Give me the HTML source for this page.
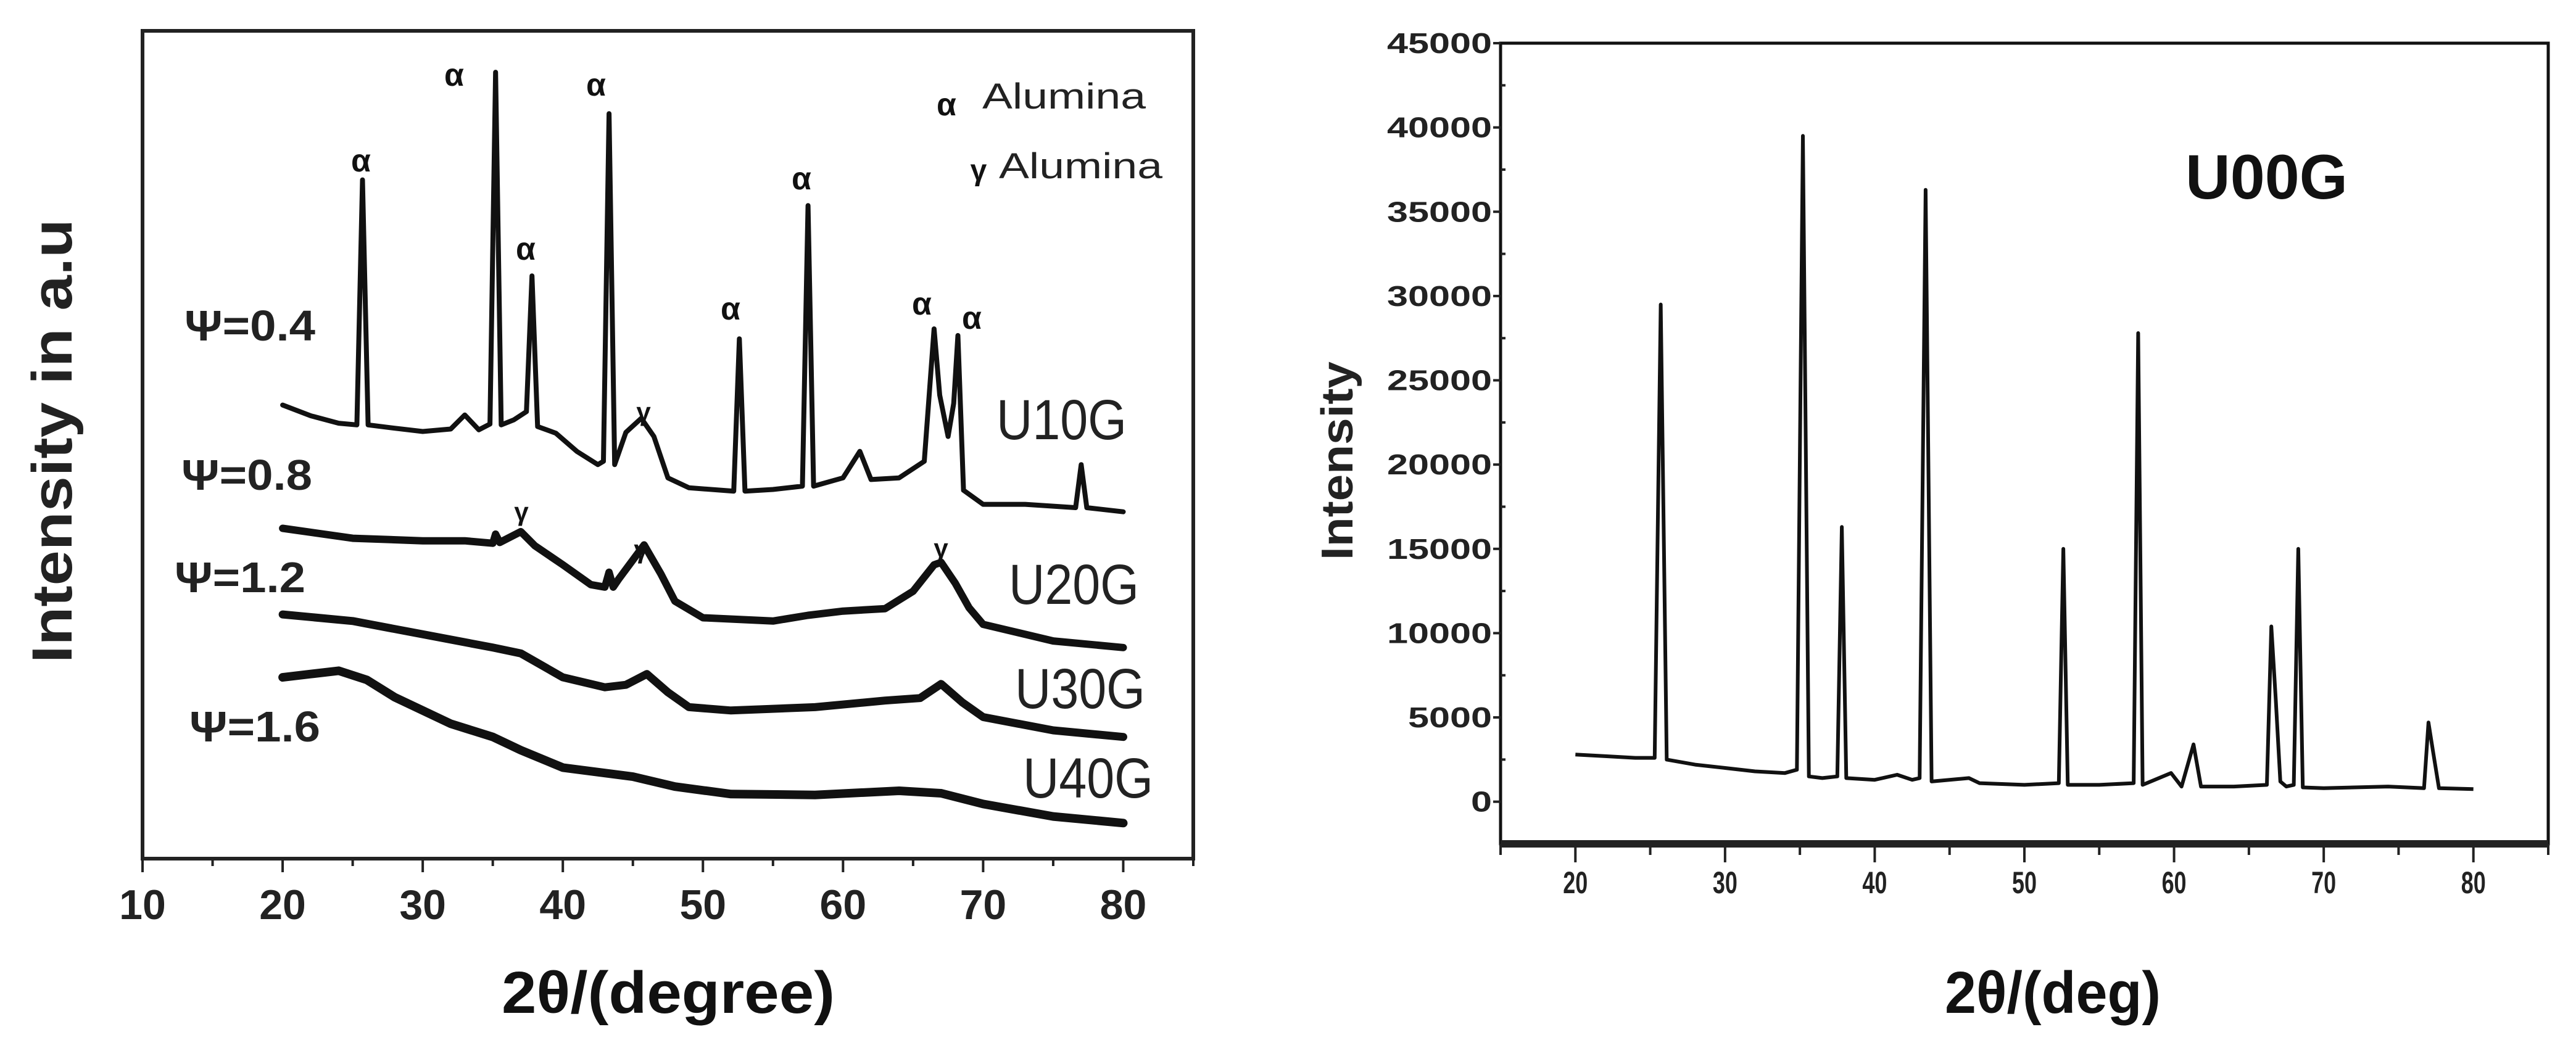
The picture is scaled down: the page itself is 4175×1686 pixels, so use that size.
<!DOCTYPE html>
<html><head><meta charset="utf-8"><style>
html,body{margin:0;padding:0;background:#fff;}
svg{display:block;font-family:"Liberation Sans",sans-serif;}
</style></head><body>
<svg id="fig" width="4175" height="1686" viewBox="0 0 4175 1686">
<g id="left"></g>
<g id="right"></g>
</svg>
<script>
// ---------- LEFT CHART DATA ----------
const leftXTicks = [10,20,30,40,50,60,70,80];
const u10x = [20,22,24,25.3,25.7,26.1,28,30,32,33,34,34.8,35.2,35.6,36.5,37.4,37.8,38.2,39.5,41,42.5,42.9,43.3,43.7,44.5,45.6,46.5,47.5,49,52.2,52.6,53,55,57.1,57.5,57.9,60,61.2,62,64,65.8,66.5,66.9,67.5,67.9,68.2,68.6,70,73,76.6,77,77.4,80];
const u10y = [54.8,53.5,52.6,52.4,82,52.4,52,51.6,51.9,53.6,51.8,52.5,95,52.4,53,54,70.4,52.2,51.4,49.2,47.6,48,90,47.6,51.5,53.2,51,46,44.8,44.4,62.8,44.4,44.6,45,78.9,45,46,49.2,45.8,46,48,64,56,51,55,63.2,44.5,42.8,42.8,42.4,47.6,42.4,41.9];
const u20x = [20,25,30,33,35,35.2,35.5,37,38,40,42,43,43.3,43.6,44,45.8,47,48,50,55,57.5,60,63,65,66.5,67,68,69,70,75,80];
const u20y = [39.9,38.7,38.4,38.4,38.1,39.2,38.2,39.5,37.8,35.5,33.1,32.8,34.6,32.8,33.8,37.9,34.4,31.1,29.1,28.7,29.4,29.9,30.2,32.3,35.5,35.8,33.3,30.3,28.3,26.3,25.5];
const u30x = [20,25,30,35,37,40,43,44.5,46,47.5,49,52,58,63,65.5,67,68.5,70,75,80];
const u30y = [29.5,28.7,27.1,25.5,24.8,21.9,20.7,21.0,22.3,20.1,18.3,17.9,18.3,19.1,19.4,21.1,18.9,17.1,15.5,14.7];
const u40x = [20,22,24,26,28,32,35,37,40,45,48,52,58,64,67,70,75,80];
const u40y = [21.9,22.3,22.7,21.6,19.5,16.3,14.7,13.1,11.0,9.9,8.7,7.8,7.7,8.2,7.9,6.6,5.1,4.3];

// ---------- RIGHT CHART DATA ----------
const rightXTicks = [20,30,40,50,60,70,80];
const rightYTicks = [0,5000,10000,15000,20000,25000,30000,35000,40000,45000];
const u00x = [20,22,24,25.3,25.7,26.1,28,30,32,34,34.8,35.2,35.6,36.5,37.5,37.8,38.1,40,41.5,42.5,43,43.4,43.8,46.3,47,50,52.3,52.6,52.9,55,57.3,57.6,57.9,59.8,60.5,61.3,61.8,64,66.2,66.5,66.8,67.1,67.5,68,68.3,68.6,70,74.3,76.7,77,77.3,77.7,80];
const u00y = [2800,2700,2600,2600,29500,2500,2200,2000,1800,1700,1900,39500,1500,1400,1500,16300,1400,1300,1600,1300,1400,36300,1200,1400,1100,1000,1100,15000,1000,1000,1100,27800,1000,1700,900,3400,900,900,1000,10400,6000,1200,900,1000,15000,850,800,900,800,4700,3000,800,750];

const NS = "http://www.w3.org/2000/svg";
function mk(parent, tag, attrs, text){
  const e = document.createElementNS(NS, tag);
  for (const k in attrs) e.setAttribute(k, attrs[k]);
  if (text !== undefined) e.textContent = text;
  parent.appendChild(e);
  return e;
}

// ===== LEFT =====
const L = document.getElementById('left');
const lx0=231, lx1=1934, ly0=50, ly1=1392;
const lxs = v => lx0 + (v-10)/(85-10)*(lx1-lx0);
const lys = v => ly1 - v/100*(ly1-ly0);
let e;
e = mk(L,'rect',{x:lx0,y:ly0,width:lx1-lx0,height:ly1-ly0,fill:'none',stroke:'#222','stroke-width':6});


for (let t=10;t<=85;t+=5){
  const major = t%10===0;
  e = mk(L,'line',{x1:lxs(t),x2:lxs(t),y1:ly1,y2:ly1+(major?22:12),stroke:'#222','stroke-width':4});
  
  
}
leftXTicks.forEach(t=>{
  e = mk(L,'text',{x:lxs(t),y:1490,'font-size':68,'font-weight':'bold','text-anchor':'middle',fill:'#222'},String(t));
  
  
});
e = mk(L,'text',{x:1083,y:1642,'font-size':96,'font-weight':'bold','text-anchor':'middle',fill:'#111',textLength:540,lengthAdjust:'spacingAndGlyphs'},'2θ/(degree)');


e = mk(L,'text',{x:0,y:0,'font-size':92,'font-weight':'bold','text-anchor':'middle',fill:'#222',textLength:720,lengthAdjust:'spacingAndGlyphs',transform:'translate(116,715) rotate(-90)'},'Intensity in a.u');



function lline(xs,ys,w,name){
  const pts = xs.map((x,i)=>lxs(x).toFixed(1)+','+lys(ys[i]).toFixed(1)).join(' ');
  const p = mk(L,'polyline',{points:pts,fill:'none',stroke:'#111','stroke-width':w,'stroke-linejoin':'round','stroke-linecap':'round'});
  
  
}
lline(u10x,u10y,8,'u10g-line');
lline(u20x,u20y,12,'u20g-line');
lline(u30x,u30y,13,'u30g-line');
lline(u40x,u40y,14,'u40g-line');

const alphaMarks = [[585,278],[736,139],[852,421],[966,155],[1184,518],[1299,307],[1494,510],[1575,533]];
alphaMarks.forEach(p=>{
  e = mk(L,'text',{x:p[0],y:p[1],'font-size':52,'font-weight':'bold','text-anchor':'middle',fill:'#111'},'α');
  
  
});
const gammaMarks = [[1043,682],[845,844],[1039,905],[1525,903]];
gammaMarks.forEach(p=>{
  e = mk(L,'text',{x:p[0],y:p[1],'font-size':42,'font-weight':'bold','text-anchor':'middle',fill:'#111'},'γ');
  
  
});
e = mk(L,'text',{x:1534,y:187,'font-size':52,'font-weight':'bold','text-anchor':'middle',fill:'#111'},'α');


e = mk(L,'text',{x:1592,y:176,'font-size':58,fill:'#222',textLength:265,lengthAdjust:'spacingAndGlyphs'},'Alumina');


e = mk(L,'text',{x:1586,y:292,'font-size':48,'font-weight':'bold','text-anchor':'middle',fill:'#111'},'γ');


e = mk(L,'text',{x:1619,y:289,'font-size':58,fill:'#222',textLength:265,lengthAdjust:'spacingAndGlyphs'},'Alumina');



const psiLabels = [['Ψ=0.4',299,552],['Ψ=0.8',294,794],['Ψ=1.2',283,960],['Ψ=1.6',307,1202]];
psiLabels.forEach(p=>{
  e = mk(L,'text',{x:p[1],y:p[2],'font-size':70,'font-weight':'bold',fill:'#222',textLength:212,lengthAdjust:'spacingAndGlyphs'},p[0]);
  
  
});
const sampleLabels = [['U10G',1615,712],['U20G',1635,979],['U30G',1645,1148],['U40G',1658,1293]];
sampleLabels.forEach(p=>{
  e = mk(L,'text',{x:p[1],y:p[2],'font-size':92,fill:'#222',textLength:211,lengthAdjust:'spacingAndGlyphs'},p[0]);
  
  
});

// ===== RIGHT =====
const R = document.getElementById('right');
const rx0=2432, rx1=4130, ry0=70, ry1=1368;
const rxs = v => rx0 + (v-15)/(85-15)*(rx1-rx0);
const rys = v => ry1 - (v+2500)/(45000+2500)*(ry1-ry0);
e = mk(R,'rect',{x:rx0,y:ry0,width:rx1-rx0,height:ry1-ry0,fill:'none',stroke:'#111','stroke-width':5});


e = mk(R,'line',{x1:rx0,x2:rx1,y1:ry1,y2:ry1,stroke:'#222','stroke-width':12});


for (let t=15;t<=85;t+=5){
  const major = t%10===0;
  e = mk(R,'line',{x1:rxs(t),x2:rxs(t),y1:ry1,y2:ry1+(major?30:18),stroke:'#222','stroke-width':4});
  
  
}
for (let v=-2500; v<=45000; v+=2500){
  const major = v%5000===0;
  e = mk(R,'line',{x1:rx0-(major?12:0),x2:rx0+(major?0:8),y1:rys(v),y2:rys(v),stroke:'#222','stroke-width':4});
  
  
}
rightXTicks.forEach(t=>{
  e = mk(R,'text',{x:rxs(t),y:1448,'font-size':50,'font-weight':'bold','text-anchor':'middle',fill:'#222',textLength:40,lengthAdjust:'spacingAndGlyphs'},String(t));
  
  
});
rightYTicks.forEach(t=>{
  const s = String(t);
  e = mk(R,'text',{x:2418,y:rys(t)+16,'font-size':46,'font-weight':'bold','text-anchor':'end',fill:'#222',textLength:34*s.length,lengthAdjust:'spacingAndGlyphs'},s);
  
  
});
e = mk(R,'text',{x:3327,y:1642,'font-size':96,'font-weight':'bold',fill:'#111',textLength:350,lengthAdjust:'spacingAndGlyphs','text-anchor':'middle'},'2θ/(deg)');


e = mk(R,'text',{x:0,y:0,'font-size':72,'font-weight':'bold','text-anchor':'middle',fill:'#222',textLength:322,lengthAdjust:'spacingAndGlyphs',transform:'translate(2192,747) rotate(-90)'},'Intensity');


e = mk(R,'text',{x:3542,y:322,'font-size':102,'font-weight':'bold',fill:'#111',textLength:263,lengthAdjust:'spacingAndGlyphs'},'U00G');


const rpts = u00x.map((x,i)=>rxs(x).toFixed(1)+','+rys(u00y[i]).toFixed(1)).join(' ');
e = mk(R,'polyline',{points:rpts,fill:'none',stroke:'#111','stroke-width':6,'stroke-linejoin':'round'});


</script>
</body></html>
